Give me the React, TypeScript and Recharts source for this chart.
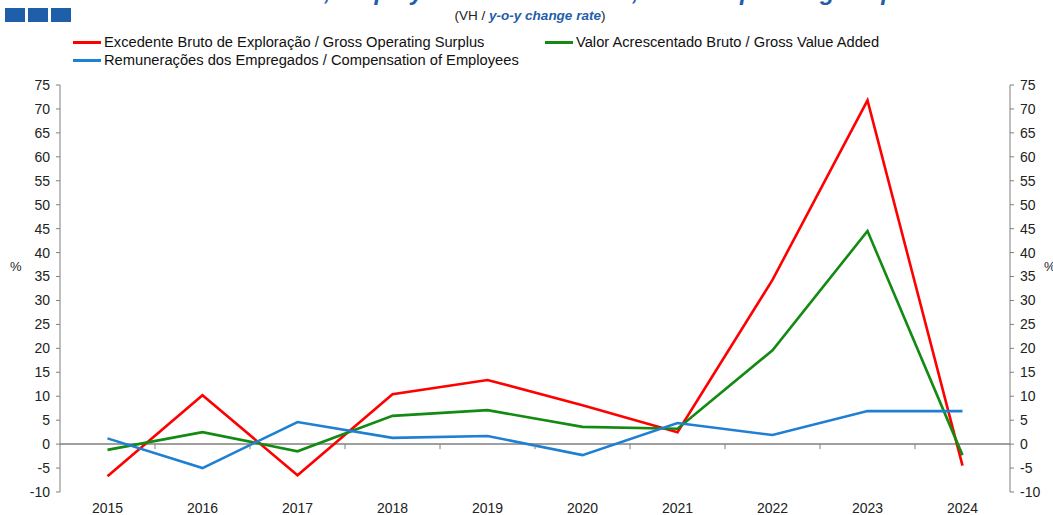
import React from "react"
import { LineChart, Line, XAxis, YAxis, ReferenceLine } from "recharts"

const years = ["2015", "2016", "2017", "2018", "2019", "2020", "2021", "2022", "2023", "2024"]
const grossOperatingSurplus = [-6.7, 10.2, -6.5, 10.4, 13.4, 8.1, 2.5, 34.3, 71.8, -4.5]
const grossValueAdded = [-1.2, 2.5, -1.5, 5.9, 7.1, 3.6, 3.2, 19.6, 44.5, -2.3]
const compensationOfEmployees = [1.2, -5.0, 4.6, 1.3, 1.7, -2.3, 4.4, 1.9, 6.9, 6.9]
const yTicks = [-10, -5, 0, 5, 10, 15, 20, 25, 30, 35, 40, 45, 50, 55, 60, 65, 70, 75]

const series = [
  { key: "gos", name: "Excedente Bruto de Exploração / Gross Operating Surplus", color: "#ff0000", values: grossOperatingSurplus, axis: "left" },
  { key: "gva", name: "Valor Acrescentado Bruto / Gross Value Added", color: "#138a13", values: grossValueAdded, axis: "left" },
  { key: "coe", name: "Remunerações dos Empregados / Compensation of Employees", color: "#1e7fd3", values: compensationOfEmployees, axis: "right" },
]

const data = years.map((year, i) => {
  const row: Record<string, string | number> = { year }
  series.forEach((s) => (row[s.key] = s.values[i]))
  return row
})

const W = 1053
const H = 515
const TOP = 85
const BOTTOM = 23
const LEFT = 60
const RIGHT = 43
const Y_MIN = -10
const Y_MAX = 75
const plotH = H - TOP - BOTTOM
const zeroY = TOP + (plotH * Y_MAX) / (Y_MAX - Y_MIN)
const band = (W - LEFT - RIGHT) / years.length
const font = "'Liberation Sans', Arial, sans-serif"
const axisGray = "#7f7f7f"

function XTick(props: any) {
  const { x, y, payload, index } = props
  return (
    <g>
      {index > 0 && <line x1={x - band / 2} x2={x - band / 2} y1={zeroY} y2={zeroY + 5} stroke={axisGray} />}
      <text x={x} y={y + 13} textAnchor="middle" fontSize={14} fill="#222" fontFamily={font}>
        {payload.value}
      </text>
    </g>
  )
}

export default function App() {
  return (
    <div style={{ position: "absolute", left: 0, top: 0, width: W, height: H, background: "#fff", fontFamily: font, overflow: "hidden" }}>
      <div style={{ position: "absolute", left: 5, top: 8, display: "flex", gap: 3 }}>
        {[0, 1, 2].map((i) => (
          <div key={i} style={{ width: 20, height: 14, background: "#1f5ea8" }} />
        ))}
      </div>
      <div
        style={{
          position: "absolute",
          left: 0,
          width: 1035,
          top: -22,
          textAlign: "center",
          fontSize: 24,
          fontWeight: "bold",
          fontStyle: "italic",
          color: "#1f5ea8",
          whiteSpace: "nowrap",
        }}
      >
        Gross Value Added, Employees Remuneration, Gross Operating Surplus
      </div>
      <div style={{ position: "absolute", left: 0, width: 1060, top: 8, textAlign: "center", fontSize: 13.5, color: "#222" }}>
        (VH / <span style={{ color: "#1f5ea8", fontWeight: "bold", fontStyle: "italic" }}>y-o-y change rate</span>)
      </div>
      {series.map((s, i) => {
        const left = i === 1 ? 545 : 73
        const top = i === 2 ? 52 : 34
        return (
          <div key={s.key} style={{ position: "absolute", left, top, display: "flex", alignItems: "center", height: 16 }}>
            <div style={{ width: 28, height: 3, background: s.color, marginRight: 3 }} />
            <span style={{ fontSize: 14.7, color: "#111", whiteSpace: "nowrap" }}>{s.name}</span>
          </div>
        )
      })}
      <div style={{ position: "absolute", left: 10, top: 259, fontSize: 13, color: "#222" }}>%</div>
      <div style={{ position: "absolute", left: 1044, top: 259, fontSize: 13, color: "#222" }}>%</div>
      <div style={{ position: "absolute", left: 0, top: 0 }}>
        <LineChart width={W} height={H} data={data} margin={{ top: TOP, bottom: 0, left: LEFT - 40, right: RIGHT - 40 }}>
          <XAxis
            dataKey="year"
            height={BOTTOM}
            axisLine={false}
            tickLine={false}
            tick={<XTick />}
            interval={0}
            padding={{ left: band / 2, right: band / 2 }}
          />
          <YAxis
            yAxisId="left"
            type="number"
            domain={[Y_MIN, Y_MAX]}
            ticks={yTicks}
            interval={0}
            width={40}
            stroke={axisGray}
            tickSize={4}
            tickMargin={6}
            tick={{ fontSize: 14, fill: "#222", fontFamily: font }}
          />
          <YAxis
            yAxisId="right"
            type="number"
            orientation="right"
            domain={[Y_MIN, Y_MAX]}
            ticks={yTicks}
            interval={0}
            width={40}
            stroke={axisGray}
            tickSize={4}
            tickMargin={6}
            tick={{ fontSize: 14, fill: "#222", fontFamily: font }}
          />
          <ReferenceLine yAxisId="left" y={0} stroke={axisGray} strokeWidth={1.5} />
          {series.map((s) => (
            <Line
              key={s.key}
              yAxisId={s.axis}
              type="linear"
              dataKey={s.key}
              name={s.name}
              stroke={s.color}
              strokeWidth={2.6}
              dot={false}
              isAnimationActive={false}
            />
          ))}
        </LineChart>
      </div>
    </div>
  )
}
